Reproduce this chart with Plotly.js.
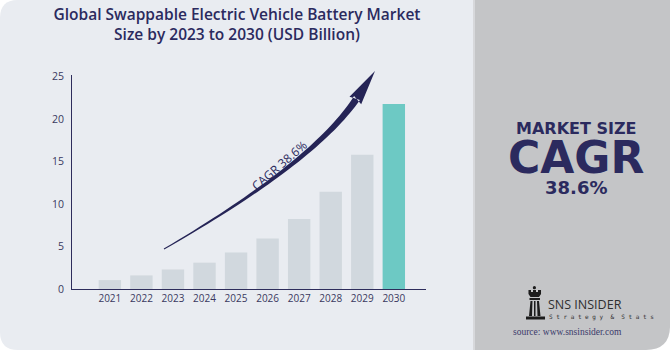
<!DOCTYPE html>
<html><head><meta charset="utf-8">
<script src="https://cdn.plot.ly/plotly-3.0.1.min.js"></script>
<style>html,body{margin:0;padding:0;background:#fff;}#chart{width:670px;height:350px;}</style>
</head><body><div id="chart"></div>
<script>
// ---- data ----
const years = ['2021','2022','2023','2024','2025','2026','2027','2028','2029','2030'];
const values = [1.05, 1.6, 2.3, 3.1, 4.3, 5.95, 8.25, 11.45, 15.8, 21.78];
const highlightYear = '2030';
const yTicks = [0, 5, 10, 15, 20, 25];
const labelYears = ['2022', '2030'];
const labelTexts = ['1.6', '21.78(BN)'];
const cagrText = 'CAGR 38.6%';

// ---- geometry helpers (plot area in pixels) ----
const L = 72, R = 426, T = 75, B = 289;
const fx = p => (p - L) / (R - L);
const fy = p => (B - p) / (B - T);
const pt = (x, y) => fx(x).toFixed(4) + ',' + fy(y).toFixed(4);

const navy = '#2b2a5e';
const barColors = years.map(y => y === highlightYear ? '#6dc9c4' : '#d1d8de');

function leftPanel() {
  const r = 18, x1 = 473;
  return 'M ' + pt(r, 0) + ' L ' + pt(x1, 0) + ' L ' + pt(x1, 350) + ' L ' + pt(r, 350) +
    ' Q ' + pt(0, 350) + ' ' + pt(0, 350 - r) + ' L ' + pt(0, r) + ' Q ' + pt(0, 0) + ' ' + pt(r, 0) + ' Z';
}
function rightPanel() {
  const r = 24, x0 = 475;
  return 'M ' + pt(x0, 0) + ' L ' + pt(670, 0) + ' L ' + pt(670, 350 - r) +
    ' Q ' + pt(670, 350) + ' ' + pt(670 - r, 350) + ' L ' + pt(x0, 350) + ' Z';
}

function arrowPath() {
  const P0 = [164, 249], P1 = [314.6, 161.9], P2 = [357, 98];
  const N = 40, left = [], right = [];
  for (let i = 0; i <= N; i++) {
    const t = i / N, u = 1 - t;
    const x = u*u*P0[0] + 2*u*t*P1[0] + t*t*P2[0];
    const y = u*u*P0[1] + 2*u*t*P1[1] + t*t*P2[1];
    let dx = 2*u*(P1[0]-P0[0]) + 2*t*(P2[0]-P1[0]);
    let dy = 2*u*(P1[1]-P0[1]) + 2*t*(P2[1]-P1[1]);
    const len = Math.hypot(dx, dy); dx /= len; dy /= len;
    const w = 0.5 + 3.0 * t;
    left.push([x - dy*w, y + dx*w]);
    right.push([x + dy*w, y - dx*w]);
  }
  const dir = [0.55, -0.835];
  const perp = [0.835, 0.55];
  const base = P2;
  const tip = [375, 71];
  const barbL = [base[0] - perp[0]*7 - dir[0]*3, base[1] - perp[1]*7 - dir[1]*3];
  const barbR = [base[0] + perp[0]*7 - dir[0]*3, base[1] + perp[1]*7 - dir[1]*3];
  let d = 'M ' + pt(left[0][0], left[0][1]);
  for (let i = 1; i <= N; i++) d += ' L ' + pt(left[i][0], left[i][1]);
  d += ' L ' + pt(barbL[0], barbL[1]) + ' L ' + pt(tip[0], tip[1]) + ' L ' + pt(barbR[0], barbR[1]);
  for (let i = N; i >= 0; i--) d += ' L ' + pt(right[i][0], right[i][1]);
  return d + ' Z';
}

function rookPath() {
  const s = [];
  s.push('M ' + pt(528.5, 290) + ' L ' + pt(531, 290) + ' L ' + pt(531, 292) + ' L ' + pt(533, 292) + ' L ' + pt(533, 290) +
    ' L ' + pt(536, 290) + ' L ' + pt(536, 292) + ' L ' + pt(538, 292) + ' L ' + pt(538, 290) + ' L ' + pt(541, 290) +
    ' L ' + pt(541, 294) + ' L ' + pt(539, 297) + ' L ' + pt(530.5, 297) + ' L ' + pt(528.5, 294) + ' Z');
  s.push('M ' + pt(529.5, 298) + ' L ' + pt(540, 298) + ' L ' + pt(540, 300) + ' L ' + pt(529.5, 300) + ' Z');
  s.push('M ' + pt(530.5, 301) + ' L ' + pt(532.5, 301) + ' L ' + pt(532, 316) + ' L ' + pt(529, 316) + ' Z');
  s.push('M ' + pt(534, 301) + ' L ' + pt(535.5, 301) + ' L ' + pt(535.5, 316) + ' L ' + pt(534, 316) + ' Z');
  s.push('M ' + pt(537, 301) + ' L ' + pt(539, 301) + ' L ' + pt(540.5, 316) + ' L ' + pt(537.5, 316) + ' Z');
  s.push('M ' + pt(526, 316.5) + ' L ' + pt(545, 316.5) + ' L ' + pt(545, 319.5) + ' L ' + pt(526, 319.5) + ' Z');
  return s.join(' ');
}

const shapes = [
  {type: 'path', xref: 'paper', yref: 'paper', path: leftPanel(), fillcolor: '#e9ecf1', line: {width: 0}, layer: 'below'},
  {type: 'rect', xref: 'paper', yref: 'paper', x0: fx(473), x1: fx(475), y0: fy(350), y1: fy(0), fillcolor: '#d7d8db', line: {width: 0}, layer: 'below'},
  {type: 'path', xref: 'paper', yref: 'paper', path: rightPanel(), fillcolor: '#c4c5c7', line: {width: 0}, layer: 'below'},
  {type: 'path', xref: 'paper', yref: 'paper', path: arrowPath(), fillcolor: '#252456', line: {width: 0}, layer: 'above'},
  {type: 'circle', xref: 'paper', yref: 'paper', x0: fx(532.8), x1: fx(536), y0: fy(289.3), y1: fy(286), fillcolor: '#1c1c1c', line: {width: 0}},
  {type: 'path', xref: 'paper', yref: 'paper', path: rookPath(), fillcolor: '#1c1c1c', line: {width: 0}}
];

const annotations = [];
labelYears.forEach((yr, i) => {
  const idx = years.indexOf(yr);
  annotations.push({x: yr, y: values[idx], xref: 'x', yref: 'y', text: labelTexts[i], showarrow: false,
    xanchor: 'center', yanchor: 'bottom', yshift: i === 0 ? 8 : 10, xshift: i === 0 ? 0 : 9,
    font: {family: 'Open Sans', size: 10, color: '#3a3960'}});
});
function note(px, py, text, font, xanchor, angle) {
  annotations.push({xref: 'paper', yref: 'paper', x: fx(px), y: fy(py), text: text, showarrow: false,
    xanchor: xanchor || 'center', yanchor: 'middle', textangle: angle || 0, font: font});
}
note(279, 165, cagrText, {family: 'Open Sans', size: 12, color: navy}, 'center', -41);
note(576, 128, '<b>MARKET SIZE</b>', {family: 'DejaVu Sans', size: 16, color: navy});
note(576, 157, '<b>CAGR</b>', {family: 'DejaVu Sans', size: 44, color: navy});
note(576, 187, '<b>38.6%</b>', {family: 'DejaVu Sans', size: 18, color: navy});
note(546, 304, 'SNS INSIDER', {family: 'Open Sans', size: 12.5, color: '#2f2f2f'}, 'left');
note(546.5, 317, 'S t r a t e g y  &  S t a t s', {family: 'DejaVu Sans Mono', size: 6, color: '#2f2f2f'}, 'left');
note(567.5, 332, 'source: www.snsinsider.com', {family: 'Liberation Serif', size: 9.5, color: '#3a3a6a'});

const trace = {
  type: 'bar', x: years, y: values, width: 0.71,
  marker: {color: barColors, line: {width: 0}},
  hoverinfo: 'skip', showlegend: false
};

const layout = {
  width: 670, height: 350,
  margin: {l: L, r: 670 - R, t: T, b: 350 - B, pad: 0},
  paper_bgcolor: '#ffffff', plot_bgcolor: 'rgba(0,0,0,0)',
  title: {text: 'Global Swappable Electric Vehicle Battery Market<br>Size by 2023 to 2030 (USD Billion)',
    xref: 'container', yref: 'container', x: 237 / 670, xanchor: 'center', y: 1 - 20 / 350, yanchor: 'middle',
    font: {family: 'Open Sans', size: 15.5, weight: 600, color: navy}},
  xaxis: {type: 'category', range: [-1.2, 10.02], showgrid: false, zeroline: false, showline: true,
    linecolor: '#2e2d5c', linewidth: 1, ticks: '', tickfont: {family: 'Open Sans', size: 10, color: '#3a3960'}, fixedrange: true},
  yaxis: {range: [0, 25.2], tickvals: yTicks, showgrid: false, zeroline: false, showline: true, ticklabelstandoff: 5,
    linecolor: '#2e2d5c', linewidth: 1, ticks: '', tickfont: {family: 'Open Sans', size: 10.5, color: '#3a3960'}, fixedrange: true},
  shapes: shapes, annotations: annotations, bargap: 0.29
};

Plotly.newPlot('chart', [trace], layout, {displayModeBar: false, staticPlot: true});
</script></body></html>
